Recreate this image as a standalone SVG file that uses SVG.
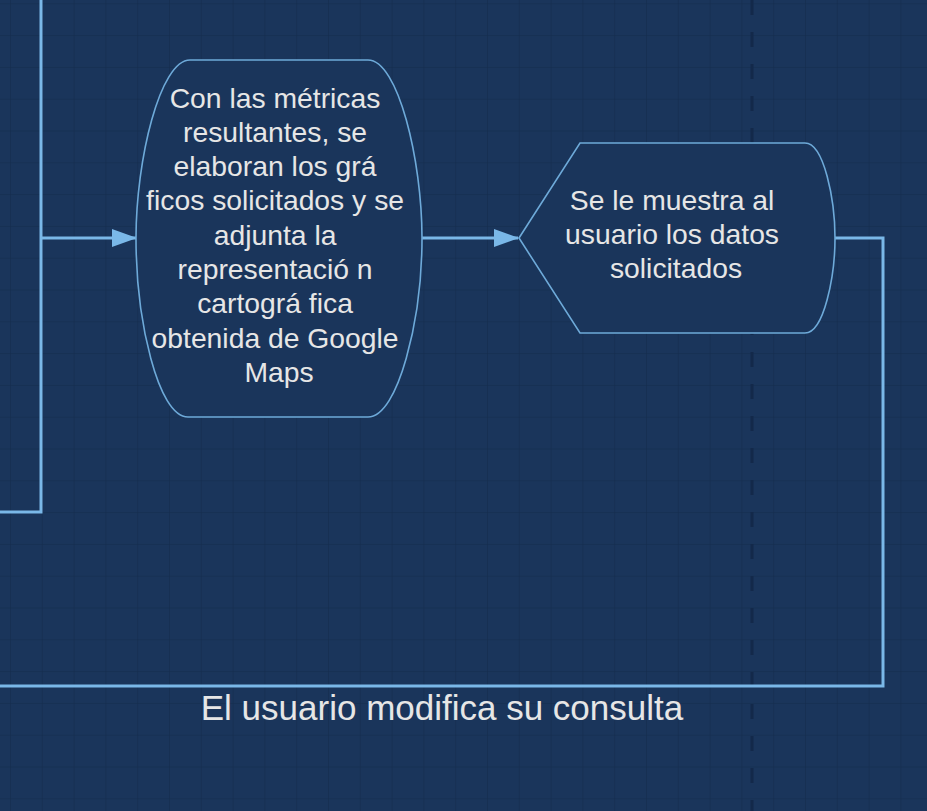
<svg xmlns="http://www.w3.org/2000/svg" width="927" height="811" viewBox="0 0 927 811">
<defs>
<style>
.conn{fill:none;stroke:#7ab8e8;stroke-width:3}
.shape{fill:#1a355b;stroke:#6eaad9;stroke-width:1.6}
.txt{font-family:"Liberation Sans",Arial,sans-serif;fill:#e6e6e6;text-anchor:middle}
.grid{stroke:#132b4b;stroke-width:1}
</style>
<pattern id="gp" x="10" y="3.3" width="31.8" height="31.8" patternUnits="userSpaceOnUse">
<path d="M0,0 V31.8 M0,0 H31.8" class="grid" fill="none"/>
</pattern>
<marker id="arr" viewBox="0 0 25 18" refX="24" refY="9" markerWidth="25" markerHeight="18" markerUnits="userSpaceOnUse" orient="auto">
<path d="M0,0 L25,9 L0,18 Z" fill="#7ab8e8"/>
</marker>
</defs>
<rect width="927" height="811" fill="#1a355b"/>
<rect width="927" height="811" fill="url(#gp)"/>
<line x1="752" y1="0" x2="752" y2="811" stroke="#13294a" stroke-width="3" stroke-dasharray="15 17"/>
<g id="connectors">
<path class="conn" d="M0,512 H41 V0"/>
<path class="conn" d="M41,238 H136" marker-end="url(#arr)"/>
<path class="conn" d="M422,238 H518" marker-end="url(#arr)"/>
<path class="conn" d="M835,238 H883 V686 H0"/>
</g>
<g id="node1">
<path class="shape" d="M190,60 H368 C398,60 422,160 422,238 C422,320 398,417 368,417 H188 C158,417 136,320 136,238 C136,160 160,60 190,60 Z"/>
<text class="txt" font-size="28.3">
<tspan x="279" y="107.5">Con las métricas</tspan>
<tspan x="279" y="141.8">resultantes, se</tspan>
<tspan x="279" y="176.1">elaboran los grá</tspan>
<tspan x="279" y="210.4">ficos solicitados y se</tspan>
<tspan x="279" y="244.7">adjunta la</tspan>
<tspan x="279" y="279">representació n</tspan>
<tspan x="279" y="313.3">cartográ fica</tspan>
<tspan x="279" y="347.6">obtenida de Google</tspan>
<tspan x="279" y="381.9">Maps</tspan>
</text>
</g>
<g id="node2">
<path class="shape" d="M519,238 L580,143 H805 C824,143 835,200 835,238 C835,276 824,333 805,333 H580 Z"/>
<text class="txt" font-size="28.3">
<tspan x="676" y="209.5">Se le muestra al</tspan>
<tspan x="676" y="243.8">usuario los datos</tspan>
<tspan x="676" y="278">solicitados</tspan>
</text>
</g>
<g id="label">
<text class="txt" font-size="35" x="442" y="720">El usuario modifica su consulta</text>
</g>
</svg>
